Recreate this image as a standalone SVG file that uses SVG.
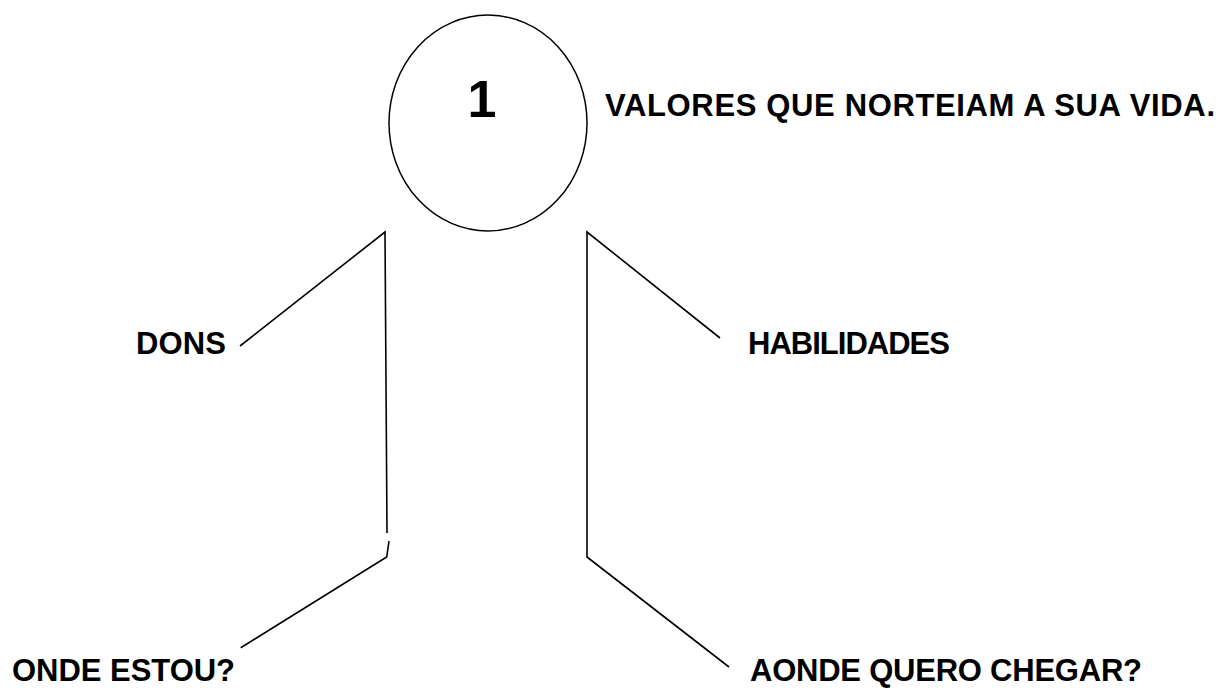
<svg xmlns="http://www.w3.org/2000/svg" width="1221" height="688" viewBox="0 0 1221 688">
<style>
.lbl{font-family:"Liberation Sans",Arial,sans-serif;font-weight:bold;font-size:31px;fill:#000}
.ln{fill:none;stroke:#000;stroke-width:1.6;stroke-linejoin:miter}
</style>
<rect width="1221" height="688" fill="#fff"/>
<g id="head">
<ellipse cx="488" cy="123" rx="99" ry="108" fill="none" stroke="#000" stroke-width="1.5"/>
<text x="482" y="117" text-anchor="middle" style="font-family:'Liberation Sans',Arial,sans-serif;font-weight:bold;font-size:52px">1</text>
</g>
<g id="connectors">
<polyline class="ln" points="240,346 385,232 387,533"/>
<polyline class="ln" points="389,541 386.7,557 240.7,647.7"/>
<polyline class="ln" points="720,338 587,232 587,557 729,667"/>
</g>
<g id="valores"><text class="lbl" x="605" y="116" textLength="610" lengthAdjust="spacing">VALORES QUE NORTEIAM A SUA VIDA.</text></g>
<g id="dons"><text class="lbl" x="136" y="354" textLength="90" lengthAdjust="spacing">DONS</text></g>
<g id="habilidades"><text class="lbl" x="748" y="354" textLength="202" lengthAdjust="spacing">HABILIDADES</text></g>
<g id="onde"><text class="lbl" x="12" y="681" textLength="223" lengthAdjust="spacing">ONDE ESTOU?</text></g>
<g id="aonde"><text class="lbl" x="750" y="681" textLength="392" lengthAdjust="spacing">AONDE QUERO CHEGAR?</text></g>
</svg>
